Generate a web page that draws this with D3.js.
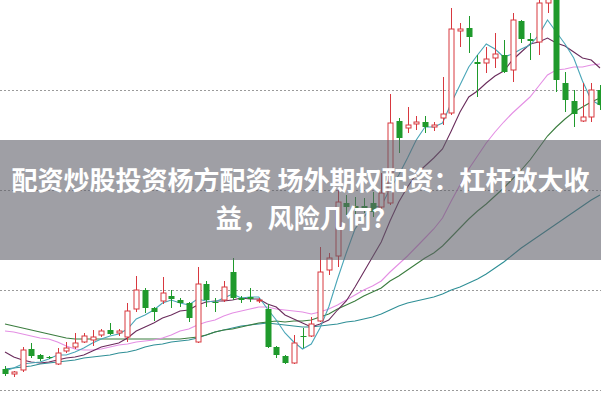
<!DOCTYPE html>
<html><head><meta charset="utf-8">
<script src="https://cdn.jsdelivr.net/npm/d3@7"></script>
<style>html,body{margin:0;padding:0;background:#fff;overflow:hidden}</style>
</head><body><svg id="c" width="601" height="401"></svg>
<script>
const open = [8.21,8.16,8.20,8.41,8.35,8.33,8.26,8.39,8.43,8.48,
8.50,8.55,8.60,8.57,8.53,8.81,9.00,8.82,8.89,8.94,
8.90,8.87,8.48,9.06,8.88,8.90,9.18,8.92,8.93,8.89,
8.81,8.43,8.34,8.27,8.54,8.54,8.69,9.20,9.34,9.87,
9.84,9.84,9.87,9.83,9.87,10.69,10.62,10.66,10.68,10.63,
10.72,10.77,11.59,11.62,11.28,11.27,11.32,11.35,11.20,11.69,
11.51,11.48,11.87,11.95,11.07,10.89,10.69,10.73,11.00];
const close = [8.16,8.18,8.40,8.34,8.31,8.32,8.37,8.42,8.47,8.54,
8.53,8.59,8.56,8.59,8.79,9.00,8.82,8.78,8.97,8.91,
8.87,8.72,9.06,8.90,8.87,9.03,8.92,8.90,8.91,8.90,
8.43,8.35,8.27,8.47,8.53,8.66,9.18,9.32,9.88,9.83,
9.82,9.82,9.78,9.97,10.67,10.52,10.65,10.68,10.63,10.65,
10.76,11.61,11.61,11.53,11.26,11.31,11.36,11.18,11.70,11.51,
11.49,11.87,11.95,11.10,10.90,10.76,10.73,11.00,10.85];
const high = [8.24,8.19,8.43,8.47,8.36,8.34,8.42,8.48,8.57,8.57,
8.60,8.61,8.67,8.61,8.87,9.14,9.02,8.83,9.13,9.00,
8.92,8.88,9.23,9.09,8.92,9.09,9.32,8.94,9.02,8.92,
8.86,8.44,8.35,8.55,8.62,8.73,9.43,9.37,10.00,9.95,
9.93,9.92,9.98,10.17,10.96,10.72,10.83,10.74,10.74,10.68,
11.13,11.82,11.67,11.74,11.35,11.43,11.57,11.50,11.77,11.70,
11.57,11.95,12.05,12.00,11.18,11.00,11.07,11.07,11.05];
const low = [8.14,8.13,8.18,8.32,8.29,8.31,8.25,8.37,8.41,8.47,
8.44,8.53,8.55,8.54,8.48,8.78,8.77,8.69,8.86,8.82,
8.83,8.68,8.47,8.83,8.78,8.88,8.90,8.87,8.88,8.87,
8.42,8.32,8.26,8.26,8.42,8.53,8.68,9.15,9.23,9.75,
9.75,9.77,9.73,9.80,9.85,10.37,10.57,10.60,10.57,10.59,
10.65,10.75,11.43,11.37,10.93,11.17,11.22,11.17,11.08,11.47,
11.30,11.35,11.77,10.98,10.78,10.63,10.68,10.68,10.80];

const ma5 = [8.19,8.22,8.26,8.27,8.28,8.31,8.35,8.35,8.38,8.42,
8.47,8.51,8.54,8.56,8.61,8.71,8.75,8.80,8.87,8.90,
8.87,8.85,8.91,8.89,8.88,8.92,8.96,8.92,8.93,8.93,
8.81,8.70,8.57,8.48,8.41,8.46,8.62,8.83,9.11,9.37,
9.61,9.73,9.83,9.84,10.01,10.15,10.32,10.50,10.63,10.63,
10.67,10.87,11.05,11.23,11.35,11.46,11.41,11.33,11.36,11.41,
11.45,11.55,11.70,11.58,11.46,11.32,11.09,10.90,10.85];
const ma10 = [8.38,8.33,8.30,8.28,8.27,8.28,8.30,8.32,8.33,8.35,
8.39,8.43,8.45,8.47,8.52,8.59,8.63,8.67,8.72,8.75,
8.79,8.80,8.85,8.88,8.89,8.89,8.90,8.92,8.91,8.91,
8.86,8.83,8.75,8.71,8.67,8.63,8.66,8.70,8.80,8.89,
9.03,9.18,9.33,9.48,9.69,9.88,10.03,10.16,10.24,10.32,
10.41,10.59,10.78,10.93,10.99,11.07,11.14,11.19,11.30,11.38,
11.46,11.48,11.52,11.47,11.44,11.38,11.32,11.30,11.22];
const ma20 = [8.59,8.58,8.56,8.54,8.52,8.51,8.48,8.44,8.41,8.40,
8.40,8.41,8.43,8.45,8.46,8.48,8.49,8.50,8.52,8.55,
8.59,8.61,8.65,8.68,8.70,8.74,8.77,8.79,8.81,8.83,
8.83,8.81,8.80,8.79,8.78,8.76,8.78,8.81,8.85,8.90,
8.95,9.00,9.04,9.09,9.18,9.26,9.34,9.43,9.52,9.61,
9.72,9.89,10.05,10.21,10.34,10.47,10.58,10.68,10.77,10.85,
10.93,11.04,11.15,11.20,11.21,11.23,11.23,11.25,11.26];
const ma30 = [8.66,8.64,8.62,8.60,8.58,8.56,8.54,8.52,8.51,8.51,
8.51,8.51,8.51,8.51,8.51,8.51,8.51,8.51,8.51,8.51,
8.51,8.52,8.53,8.55,8.58,8.60,8.61,8.63,8.65,8.67,
8.68,8.69,8.68,8.69,8.69,8.70,8.73,8.76,8.81,8.85,
8.89,8.94,8.98,9.02,9.09,9.14,9.20,9.26,9.32,9.37,
9.44,9.53,9.62,9.71,9.79,9.86,9.94,10.02,10.11,10.20,
10.30,10.42,10.54,10.63,10.71,10.78,10.83,10.88,10.92];
const ma60 = [8.21,8.22,8.23,8.24,8.26,8.27,8.28,8.29,8.30,8.32,
8.33,8.34,8.35,8.37,8.38,8.40,8.43,8.45,8.46,8.48,
8.49,8.50,8.52,8.55,8.58,8.60,8.62,8.64,8.65,8.66,
8.67,8.66,8.65,8.64,8.63,8.63,8.64,8.65,8.66,8.68,
8.69,8.71,8.73,8.76,8.80,8.84,8.87,8.89,8.91,8.93,
8.96,9.00,9.03,9.07,9.11,9.16,9.22,9.28,9.35,9.42,
9.48,9.54,9.60,9.66,9.72,9.78,9.84,9.90,9.95];

const gridTicks = [8, 9, 10, 11];
const titleLines = ["配资炒股投资杨方配资 场外期权配资：杠杆放大收", "益，风险几何?"];

const W = 601, H = 401;
const svg = d3.select("#c");
const x = d3.scaleLinear().domain([0, open.length - 1]).range([5, 600]);
const y = d3.scaleLinear().domain([8, 12]).range([390, -10]);

// grid
svg.append("g").selectAll("line").data(gridTicks).join("line")
  .attr("x1", 0).attr("x2", W)
  .attr("y1", d => Math.round(y(d)) + 0.5).attr("y2", d => Math.round(y(d)) + 0.5)
  .attr("stroke", "#9a9a9a").attr("stroke-width", 1).attr("stroke-dasharray", "2,2");

// moving averages
const maSeries = [
  {v: ma60, c: "#2f8f96"},
  {v: ma30, c: "#3b7d3f"},
  {v: ma20, c: "#e48fe4"},
  {v: ma10, c: "#6a2c5c"},
  {v: ma5,  c: "#4aa6b8"}
];
const line = d3.line().x((d, i) => x(i)).y(d => y(d));
svg.append("g").selectAll("path").data(maSeries).join("path")
  .attr("d", d => line(d.v)).attr("fill", "none")
  .attr("stroke", d => d.c).attr("stroke-width", 1.1);

// candles
const RED = "#d8383f", GREEN = "#1f9a2c";
const bw = 5;
const idx = open.map((d, i) => i);
const cg = svg.append("g").selectAll("g").data(idx).join("g");
cg.each(function(i) {
  const g = d3.select(this);
  const up = close[i] >= open[i];
  const col = up ? RED : GREEN;
  const cx = Math.round(x(i)) + 0.5;
  const top = y(Math.max(open[i], close[i]));
  const bot = y(Math.min(open[i], close[i]));
  const h = Math.max(1, bot - top);
  g.append("line").attr("x1", cx).attr("x2", cx)
    .attr("y1", y(high[i])).attr("y2", top).attr("stroke", col).attr("stroke-width", 1);
  g.append("line").attr("x1", cx).attr("x2", cx)
    .attr("y1", top + h).attr("y2", y(low[i])).attr("stroke", col).attr("stroke-width", 1);
  if (up) {
    g.append("rect").attr("x", cx - bw / 2).attr("y", top).attr("width", bw).attr("height", h)
      .attr("fill", "#fff").attr("stroke", col).attr("stroke-width", 1);
  } else {
    g.append("rect").attr("x", cx - bw / 2 - 0.5).attr("y", top).attr("width", bw + 1).attr("height", h)
      .attr("fill", col);
  }
});

// title band
svg.append("rect").attr("x", 0).attr("y", 140).attr("width", W).attr("height", 120)
  .attr("fill", "rgba(95,95,105,0.6)");
svg.append("g").selectAll("text").data(titleLines).join("text")
  .attr("x", W / 2).attr("y", (d, i) => 190 + i * 38)
  .attr("text-anchor", "middle")
  .attr("font-family", "'Noto Sans CJK SC', 'Noto Sans', sans-serif")
  .attr("font-size", 26).attr("font-weight", "bold").attr("fill", "#fff")
  .text(d => d);
</script>
</body></html>
